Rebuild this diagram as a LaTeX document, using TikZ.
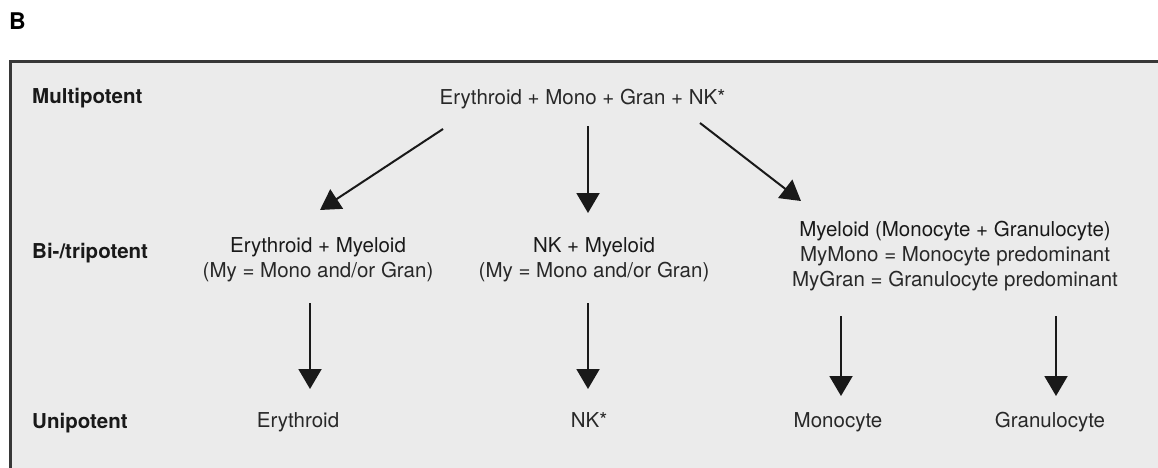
\documentclass[tikz,border=0pt]{standalone}
\usepackage{fontspec}
\setmainfont{TeX Gyre Heros}
\usetikzlibrary{arrows.meta}
\definecolor{boxfill}{RGB}{235,235,235}
\definecolor{boxline}{RGB}{55,55,55}
\definecolor{txt}{RGB}{40,40,40}
\definecolor{txtdark}{RGB}{25,25,25}
\definecolor{arrowc}{RGB}{25,25,25}
\tikzset{
  lbl/.style={anchor=base, inner sep=0pt, text=txt, font=\fontsize{20.5}{25}\selectfont},
  lbldark/.style={lbl, text=txtdark},
  rowlbl/.style={anchor=base west, inner sep=0pt, text=txtdark, font=\fontsize{20.5}{25}\selectfont\bfseries},
  flow/.style={draw=arrowc, line width=2pt, -{Triangle[length=20pt,width=23pt]}}
}
\begin{document}
\begin{tikzpicture}[x=1pt,y=-1pt]
\clip (0,0) rectangle (1158,468);
\fill[white] (0,0) rectangle (1158,468);
\draw[fill=boxfill, draw=boxline, line width=2.5pt] (10.5,61.5) rectangle (1175,490);
% panel letter
\node[anchor=base west, inner sep=0pt, text=black, font=\fontsize{23}{27}\selectfont\bfseries] (B) at (9,30) {B};
% row labels
\node[rowlbl] (multi) at (32,104) {Multipotent};
\node[rowlbl] (bitri) at (32,258) {Bi-/tripotent};
\node[rowlbl] (uni) at (32,428) {Unipotent};
% top
\node[lbl] (top) at (582.5,105) {Erythroid + Mono + Gran + NK*};
% middle
\node[lbldark] (em1) at (318,252.3) {Erythroid + Myeloid};
\node[lbl] (em2) at (318,277.7) {(My = Mono and/or Gran)};
\node[lbldark] (nm1) at (594,252.3) {NK + Myeloid};
\node[lbl] (nm2) at (594,277.7) {(My = Mono and/or Gran)};
\node[lbldark] (my1) at (955,236) {Myeloid (Monocyte + Granulocyte)};
\node[lbl] (my2) at (955,261) {MyMono = Monocyte predominant};
\node[lbl] (my3) at (955,286) {MyGran = Granulocyte predominant};
% bottom
\node[lbl] (ery) at (298,427.5) {Erythroid};
\node[lbl] (nk) at (589,427.5) {NK*};
\node[lbl] (mono) at (838,427.5) {Monocyte};
\node[lbl] (gran) at (1050,427.5) {Granulocyte};
% connector end points
\coordinate (a1s) at (443,129);  \coordinate (a1e) at (320,210);
\coordinate (a2s) at (588,126);  \coordinate (a2e) at (588,213);
\coordinate (a3s) at (700,123);  \coordinate (a3e) at (801,201);
\coordinate (b1s) at (310,303);  \coordinate (b1e) at (310,389);
\coordinate (b2s) at (588,303);  \coordinate (b2e) at (588,389);
\coordinate (b3s) at (841,316);  \coordinate (b3e) at (841,396);
\coordinate (b4s) at (1056,316); \coordinate (b4e) at (1056,396);
\draw[flow] (a1s) -- (a1e);
\draw[flow] (a2s) -- (a2e);
\draw[flow] (a3s) -- (a3e);
\draw[flow] (b1s) -- (b1e);
\draw[flow] (b2s) -- (b2e);
\draw[flow] (b3s) -- (b3e);
\draw[flow] (b4s) -- (b4e);
\end{tikzpicture}
\end{document}
